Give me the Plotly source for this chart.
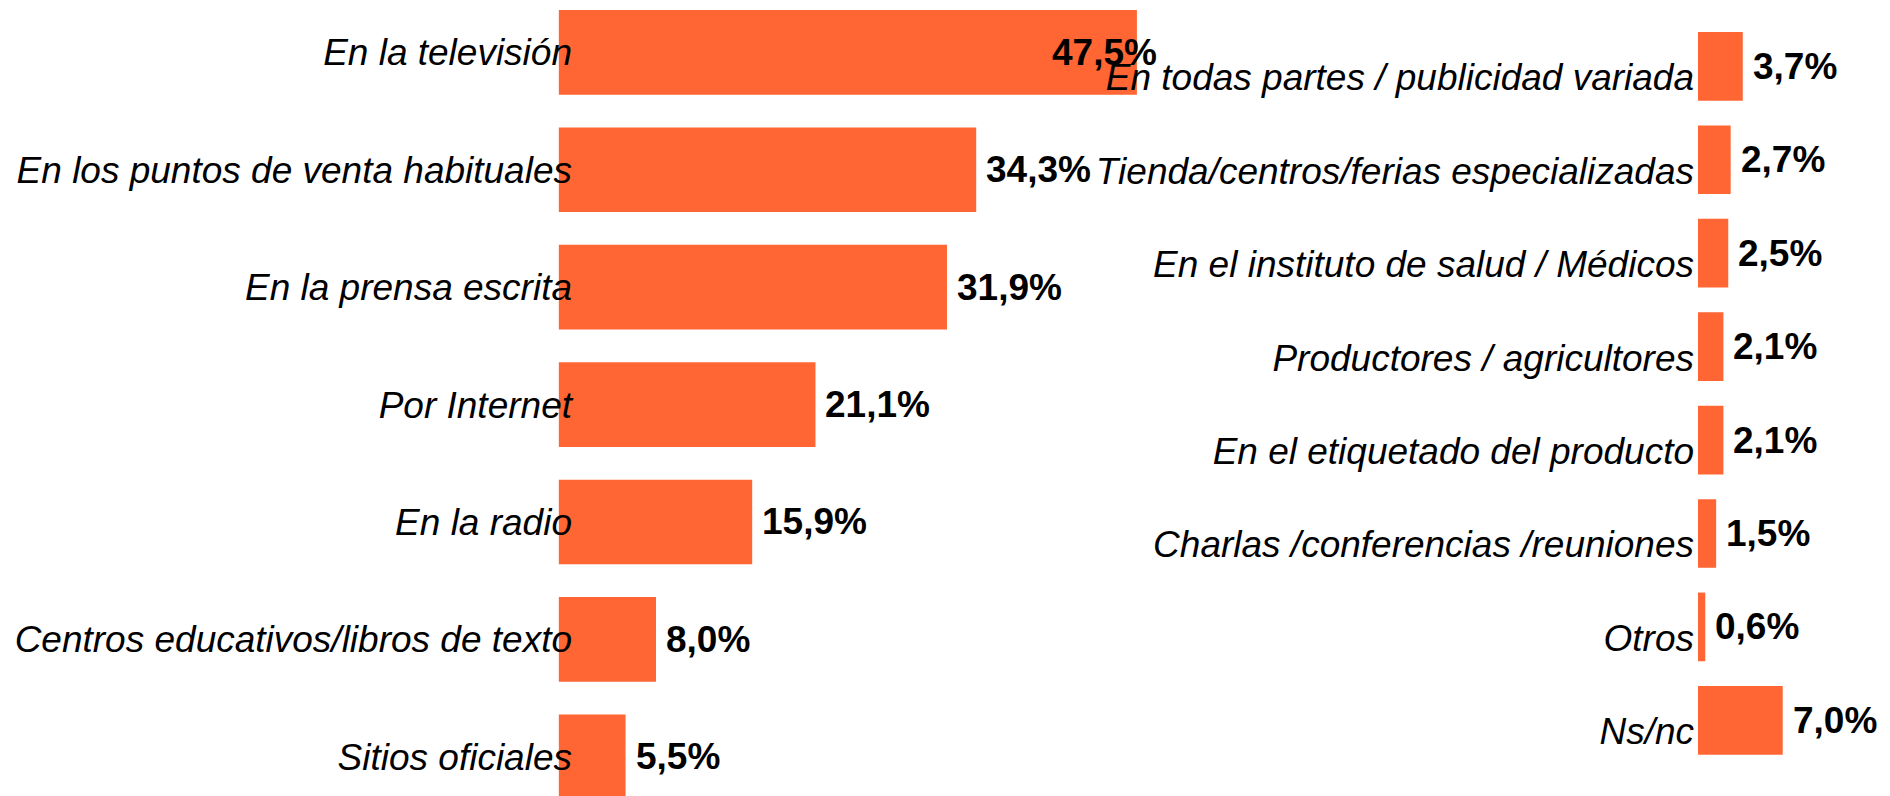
import plotly.graph_objects as go

# ---- data ----
left_categories = [
    "En la televisión",
    "En los puntos de venta habituales",
    "En la prensa escrita",
    "Por Internet",
    "En la radio",
    "Centros educativos/libros de texto",
    "Sitios oficiales",
]
left_values = [47.5, 34.3, 31.9, 21.1, 15.9, 8.0, 5.5]

right_categories = [
    "En todas partes / publicidad variada",
    "Tienda/centros/ferias especializadas",
    "En el instituto de salud / Médicos",
    "Productores / agricultores",
    "En el etiquetado del producto",
    "Charlas /conferencias /reuniones",
    "Otros",
    "Ns/nc",
]
right_values = [3.7, 2.7, 2.5, 2.1, 2.1, 1.5, 0.6, 7.0]

# ---- style ----
W, H = 1890, 796
BAR = "#FF6633"
FONT = "Liberation Sans, Arial, sans-serif"
FS = 37

def fmt(v):
    return f"{v:.1f}".replace(".", ",") + "%"

# pixel geometry (px per % unit)
L_X0, L_X1, L_SCALE = 558.6, 1159.0, 12.175
R_X0, R_X1, R_SCALE = 1698.0, 1890.0, 12.1
l_xmax = (L_X1 - L_X0) / L_SCALE
r_xmax = (R_X1 - R_X0) / R_SCALE

fig = go.Figure()
fig.add_trace(go.Bar(
    x=left_values, y=left_categories, orientation="h",
    marker=dict(color=BAR, line=dict(width=0)),
    width=0.7215, xaxis="x", yaxis="y", hoverinfo="skip",
))
fig.add_trace(go.Bar(
    x=right_values, y=right_categories, orientation="h",
    marker=dict(color=BAR, line=dict(width=0)),
    width=0.735, xaxis="x2", yaxis="y2", hoverinfo="skip",
))

annotations = []
label_font = dict(family=FONT, size=FS, color="black", weight="bold")
for cat, v in zip(left_categories, left_values):
    # justify labels that would overflow the panel (as in the original)
    if v > l_xmax - 7:
        annotations.append(dict(x=l_xmax, y=cat, xref="x", yref="y", text=fmt(v),
                                showarrow=False, xanchor="right", yanchor="middle",
                                font=label_font))
    else:
        annotations.append(dict(x=v, y=cat, xref="x", yref="y", text=fmt(v),
                                showarrow=False, xanchor="left", yanchor="middle",
                                xshift=8, font=label_font))
for cat, v in zip(right_categories, right_values):
    annotations.append(dict(x=v, y=cat, xref="x2", yref="y2", text=fmt(v),
                            showarrow=False, xanchor="left", yanchor="middle",
                            xshift=8, font=label_font))

tick_font = dict(family=FONT, size=FS, color="black", style="italic")

fig.update_layout(
    width=W, height=H,
    margin=dict(l=0, r=0, t=0, b=0, pad=0),
    paper_bgcolor="white", plot_bgcolor="rgba(0,0,0,0)",
    showlegend=False,
    annotations=annotations,
    xaxis=dict(domain=[L_X0 / W, L_X1 / W], range=[0, l_xmax],
               showgrid=False, zeroline=False, showline=False,
               showticklabels=False, ticks=""),
    xaxis2=dict(domain=[R_X0 / W, R_X1 / W], range=[0, r_xmax],
                showgrid=False, zeroline=False, showline=False,
                showticklabels=False, ticks="", anchor="y2"),
    yaxis=dict(domain=[0, 1], range=[6.334, -0.446],
               categoryorder="array", categoryarray=left_categories,
               anchor="free", position=572 / W,
               showgrid=False, zeroline=False, showline=False, ticks="",
               tickfont=tick_font),
    yaxis2=dict(domain=[0, 1], range=[7.810, -0.710],
                categoryorder="array", categoryarray=right_categories,
                anchor="free", position=1694 / W,
                showgrid=False, zeroline=False, showline=False, ticks="",
                tickfont=tick_font, ticklabelshift=-11),
)

fig.write_html(
    "out.html",
    config={"displayModeBar": False},
    post_script="document.body.style.margin='0';document.body.style.overflow='hidden';",
)
